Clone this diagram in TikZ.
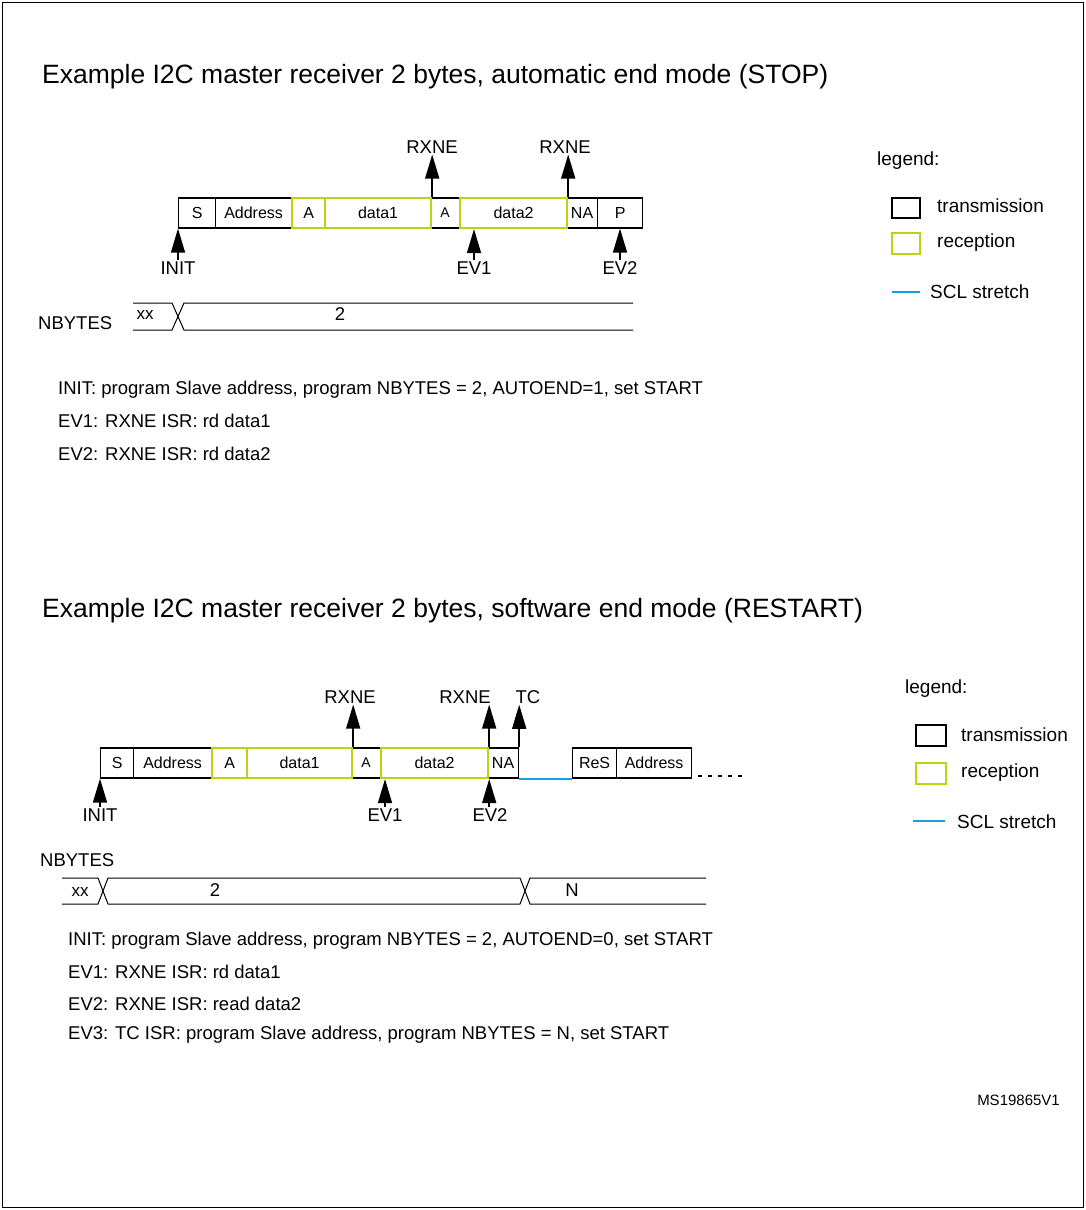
\documentclass[tikz,border=0pt]{standalone}
\usepackage{fontspec}
\setmainfont{Liberation Sans}
\usetikzlibrary{arrows.meta}

\definecolor{rxgreen}{RGB}{190,210,20}
\definecolor{sclblue}{RGB}{20,160,220}

\tikzset{
  cell/.style   = {draw, line width=1.2pt, anchor=west, minimum height=30pt,
                   inner sep=0pt, font=\fontsize{16}{18}\selectfont},
  rcell/.style  = {cell, draw=rxgreen, line width=2.2pt},
  lbl/.style    = {font=\fontsize{18.5}{21}\selectfont, inner sep=1pt},
  txt/.style    = {font=\fontsize{18.5}{21}\selectfont, anchor=west, inner sep=0pt},
  lgd/.style    = {txt, font=\fontsize{19}{22}\selectfont},
  ttl/.style    = {font=\fontsize{26.5}{30}\selectfont, anchor=west, inner sep=0pt},
  ev/.style     = {-{Triangle[width=14pt,length=24pt]}, line width=1.5pt},
  bus/.style    = {line width=1pt}
}

\begin{document}
\begin{tikzpicture}[x=1pt,y=-1pt]
\useasboundingbox (0,0) rectangle (1085,1210);
\draw[line width=1pt] (2,2) rectangle (1083,1207);

% ---------- first example ----------
\node[ttl] (t1) at (42,77) {Example I2C master receiver 2 bytes, automatic end mode (STOP)};

% frame cells
\foreach \n/\x/\w/\t in {a1/178/37/S, a2/215/76/Address, a3/430/29/{\fontsize{14}{16}\selectfont A},
                         a4/566/31/NA, a5/597/45/P}
  \node[cell, minimum width=\w] (\n) at (\x,213) {\t};
\foreach \n/\x/\w/\t in {a6/291/33/A, a7/324/106/data1, a8/459/107/data2}
  \node[rcell, minimum width=\w] (\n) at (\x,213) {\t};

% events
\node[lbl] (rx1) at (432,147) {RXNE};
\node[lbl] (rx2) at (565,147) {RXNE};
\draw[ev] (a7.north east) -- (rx1.south -| a7.north east);
\draw[ev] (a8.north east) -- (rx2.south -| a8.north east);
\node[lbl] (in1) at (178,268) {INIT};
\node[lbl] (ev1) at (474,268) {EV1};
\node[lbl] (ev2) at (620,268) {EV2};
\draw[ev] (in1.north -| a1.south west) -- (a1.south west);
\draw[ev] (ev1.north) -- (ev1.north |- a8.south);
\draw[ev] (ev2.north) -- (ev2.north |- a5.south);

% NBYTES bus
\node[txt] (nb1) at (38,323) {NBYTES};
\draw[bus] (133,303) -- (172,303) -- (184,330) -- (633,330);
\draw[bus] (133,330) -- (172,330) -- (184,303) -- (633,303);
\node[lbl, font=\fontsize{17}{19}\selectfont] (xx1) at (145,315) {xx};
\node[lbl] (two1) at (340,314) {2};

\node[txt] (d11) at (58,390) {INIT: program Slave address, program NBYTES = 2, AUTOEND=1, set START};
\node[txt] (d12) at (58,421) {EV1: RXNE ISR: rd data1};
\node[txt] (d13) at (58,454) {EV2: RXNE ISR: rd data2};

% legend
\node[lgd] (lg1) at (877,161) {legend:};
\draw[line width=1.2pt] (892,198) rectangle (920,218);
\node[lgd] (lt1) at (937,206) {transmission};
\draw[rxgreen, line width=2.2pt] (892,233) rectangle (920,254);
\node[lgd] (lr1) at (937,243) {reception};
\draw[sclblue, line width=1.5pt] (892,292) -- (920,292);
\node[lgd] (ls1) at (930,292) {SCL stretch};

% ---------- second example ----------
\node[ttl] (t2) at (42,611) {Example I2C master receiver 2 bytes, software end mode (RESTART)};

\foreach \n/\x/\w/\t in {b1/100/33/S, b2/133/78/Address, b3/351/29/{\fontsize{14}{16}\selectfont A},
                         b4/487/31/NA, b5/572/44/ReS, b6/616/75/Address}
  \node[cell, minimum width=\w] (\n) at (\x,763) {\t};
\foreach \n/\x/\w/\t in {b7/211/35/A, b8/246/105/data1, b9/380/107/data2}
  \node[rcell, minimum width=\w] (\n) at (\x,763) {\t};
\draw[sclblue, line width=2pt] (b4.south east) -- (b5.south west);
\draw[line width=1.2pt, dash pattern=on 4pt off 6pt] (698,776) -- (742,776);

% events
\node[lbl] (rx3) at (350,697) {RXNE};
\node[lbl] (rx4) at (465,697) {RXNE};
\node[lbl] (tc)  at (528,697) {TC};
\draw[ev] (b8.north east) -- (rx3.south -| b8.north east);
\draw[ev] (b9.north east) -- (rx4.south -| b9.north east);
\draw[ev] (b4.north east) -- (tc.south -| b4.north east);
\node[lbl] (in2) at (100,815) {INIT};
\node[lbl] (ev3) at (385,815) {EV1};
\node[lbl] (ev4) at (490,815) {EV2};
\draw[ev] (in2.north -| b1.south west) -- (b1.south west);
\draw[ev] (ev3.north) -- (ev3.north |- b9.south);
\draw[ev] (ev4.north -| b9.south east) -- (b9.south east);

% NBYTES bus
\node[txt] (nb2) at (40,860) {NBYTES};
\draw[bus] (62,878) -- (98,878) -- (108,904) -- (520,904) -- (530,878) -- (706,878);
\draw[bus] (62,904) -- (98,904) -- (108,878) -- (520,878) -- (530,904) -- (706,904);
\node[lbl, font=\fontsize{17}{19}\selectfont] (xx2) at (80,892) {xx};
\node[lbl] (two2) at (215,890) {2};
\node[lbl] (nn)   at (572,890) {N};

\node[txt] (d21) at (68,941) {INIT: program Slave address, program NBYTES = 2, AUTOEND=0, set START};
\node[txt] (d22) at (68,972) {EV1: RXNE ISR: rd data1};
\node[txt] (d23) at (68,1004) {EV2: RXNE ISR: read data2};
\node[txt] (d24) at (68,1035) {EV3: TC ISR: program Slave address, program NBYTES = N, set START};

% legend
\node[lgd] (lg2) at (905,689) {legend:};
\draw[line width=1.2pt] (916,725) rectangle (946,746);
\node[lgd] (lt2) at (961,735) {transmission};
\draw[rxgreen, line width=2.2pt] (916,763) rectangle (946,784);
\node[lgd] (lr2) at (961,773) {reception};
\draw[sclblue, line width=1.5pt] (913,821) -- (945,821);
\node[lgd] (ls2) at (957,822) {SCL stretch};

\node[txt, anchor=east, font=\fontsize{15}{17}\selectfont] (ms) at (1060,1100) {MS19865V1};
\end{tikzpicture}
\end{document}
